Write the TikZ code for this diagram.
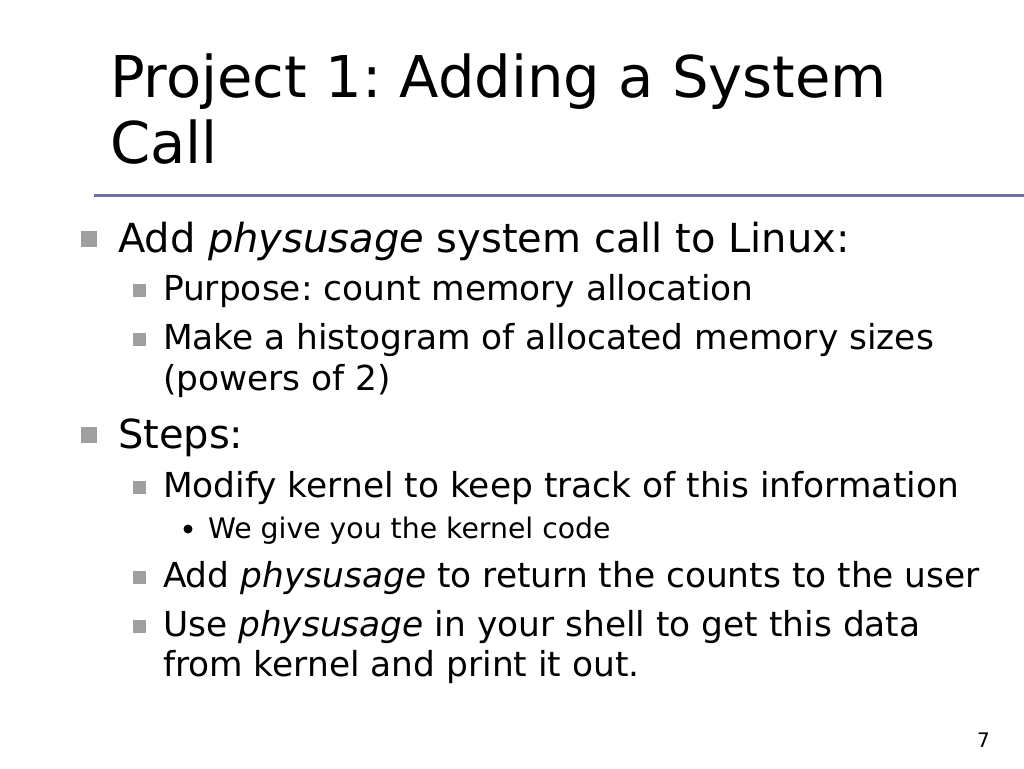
\documentclass[tikz,border=0pt]{standalone}
\usepackage{fontspec}
\setmainfont{DejaVu Sans}
\begin{document}
\frenchspacing
\begin{tikzpicture}[x=1pt,y=-1pt,
  every node/.style={inner sep=0pt,outer sep=0pt,anchor=base west},
  title/.style={font=\fontsize{57.6}{66}\selectfont},
  lone/.style={font=\fontsize{40}{48}\selectfont},
  ltwo/.style={font=\fontsize{34.4}{41}\selectfont},
  lthree/.style={font=\fontsize{28.3}{33}\selectfont},
  sqone/.style={fill=gray!75,draw=none,minimum size=16pt,anchor=center},
  sqtwo/.style={fill=gray!75,draw=none,minimum size=13pt,anchor=center},
  dotb/.style={fill=black,draw=none,circle,minimum size=9pt,anchor=center}]
\definecolor{rulecol}{RGB}{110,110,168}
\useasboundingbox (0,0) rectangle (1024,768);
\fill[white] (0,0) rectangle (1024,768);
\node[title] (t1) at (110,97) {Project 1: Adding a System};
\node[title] (t2) at (110,163) {Call};
\draw[rulecol,line width=3pt] (94,195) -- (1024,195);

\node[sqone] (b1) at (89,239) {};
\node[lone] (l1) at (118,252) {Add \textit{physusage} system call to Linux:};
\node[sqtwo] (b2) at (139,290) {};
\node[ltwo] (l2) at (163,300) {Purpose: count memory allocation};
\node[sqtwo] (b3) at (139,339) {};
\node[ltwo] (l3) at (163,349) {Make a histogram of allocated memory sizes};
\node[ltwo] (l3b) at (163,390) {(powers of 2)};
\node[sqone] (b4) at (89,435) {};
\node[lone] (l4) at (118,448) {Steps:};
\node[sqtwo] (b5) at (139,487) {};
\node[ltwo] (l5) at (163,497) {Modify kernel to keep track of this information};
\node[dotb] (b6) at (188,529) {};
\node[lthree] (l6) at (208,538) {We give you the kernel code};
\node[sqtwo] (b7) at (139,577) {};
\node[ltwo] (l7) at (163,587) {Add \textit{physusage} to return the counts to the user};
\node[sqtwo] (b8) at (139,626) {};
\node[ltwo] (l8) at (163,636) {Use \textit{physusage} in your shell to get this data};
\node[ltwo] (l8b) at (163,676) {from kernel and print it out.};
\node[font=\fontsize{20}{24}\selectfont] (pg) at (977,747) {7};
\end{tikzpicture}
\end{document}
